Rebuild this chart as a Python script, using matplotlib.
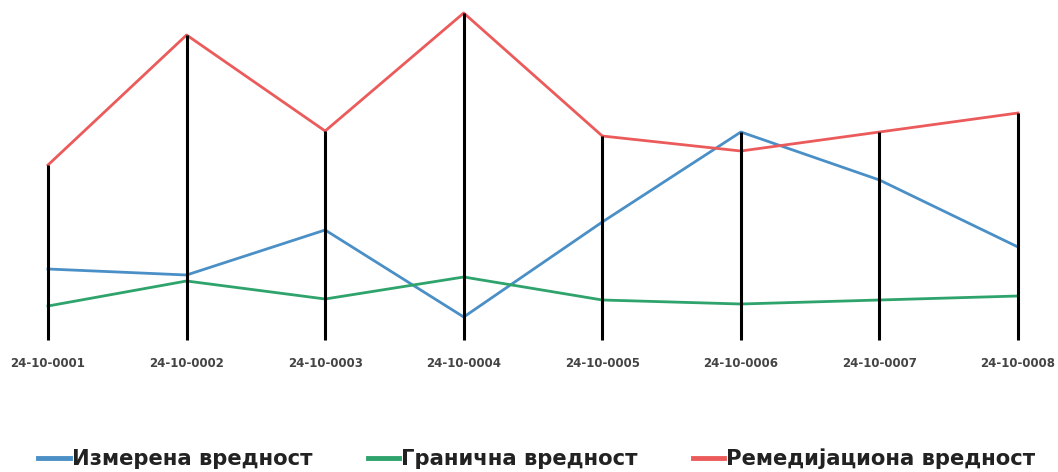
import matplotlib.pyplot as plt
import numpy as np

# sample codes and measured / limit / remediation values
samples = ["24-10-0001", "24-10-0002", "24-10-0003", "24-10-0004",
           "24-10-0005", "24-10-0006", "24-10-0007", "24-10-0008"]
measured = [71, 65, 110, 23, 118, 208, 160, 93]
limit = [34, 59, 41, 63, 40, 36, 40, 44]
remediation = [175, 305, 209, 327, 204, 189, 208, 227]

labels = ["Измерена вредност", "Гранична вредност", "Ремедијациона вредност"]
colors = ["#4a8fc6", "#2ea36c", "#ec5b5b"]

fig = plt.figure(figsize=(10.58, 4.72), dpi=100)
ax = fig.add_axes([48 / 1058, 1 - 340 / 472, 970 / 1058, 330 / 472])

x = np.arange(len(samples))

# drop lines from the highest value down to the axis
tops = np.max([measured, limit, remediation], axis=0)
ax.vlines(x, 0, tops, color="black", linewidth=2.2, zorder=4, clip_on=False)

for vals, lab, col in zip([measured, limit, remediation], labels, colors):
    ax.plot(x, vals, color=col, linewidth=2.0, label=lab, zorder=3, clip_on=False)

ax.set_xlim(0, len(samples) - 1)
ax.set_ylim(0, 330)
ax.set_yticks([])
ax.set_xticks(x)
ax.set_xticklabels(samples, fontsize=8.5, fontweight="bold", color="#444444")
ax.tick_params(axis="x", length=0, pad=12)
for s in ax.spines.values():
    s.set_visible(False)

leg = fig.legend(loc="center", bbox_to_anchor=(537 / 1058, 1 - 459 / 472), ncol=3,
                 frameon=False, handlelength=1.5, handletextpad=0.1,
                 columnspacing=2.6, prop={"size": 15.2, "weight": "bold"})
for h in leg.get_lines():
    h.set_linewidth(3.5)
for t in leg.get_texts():
    t.set_color("#222222")

fig.savefig("out.png", dpi=100, facecolor="white")
